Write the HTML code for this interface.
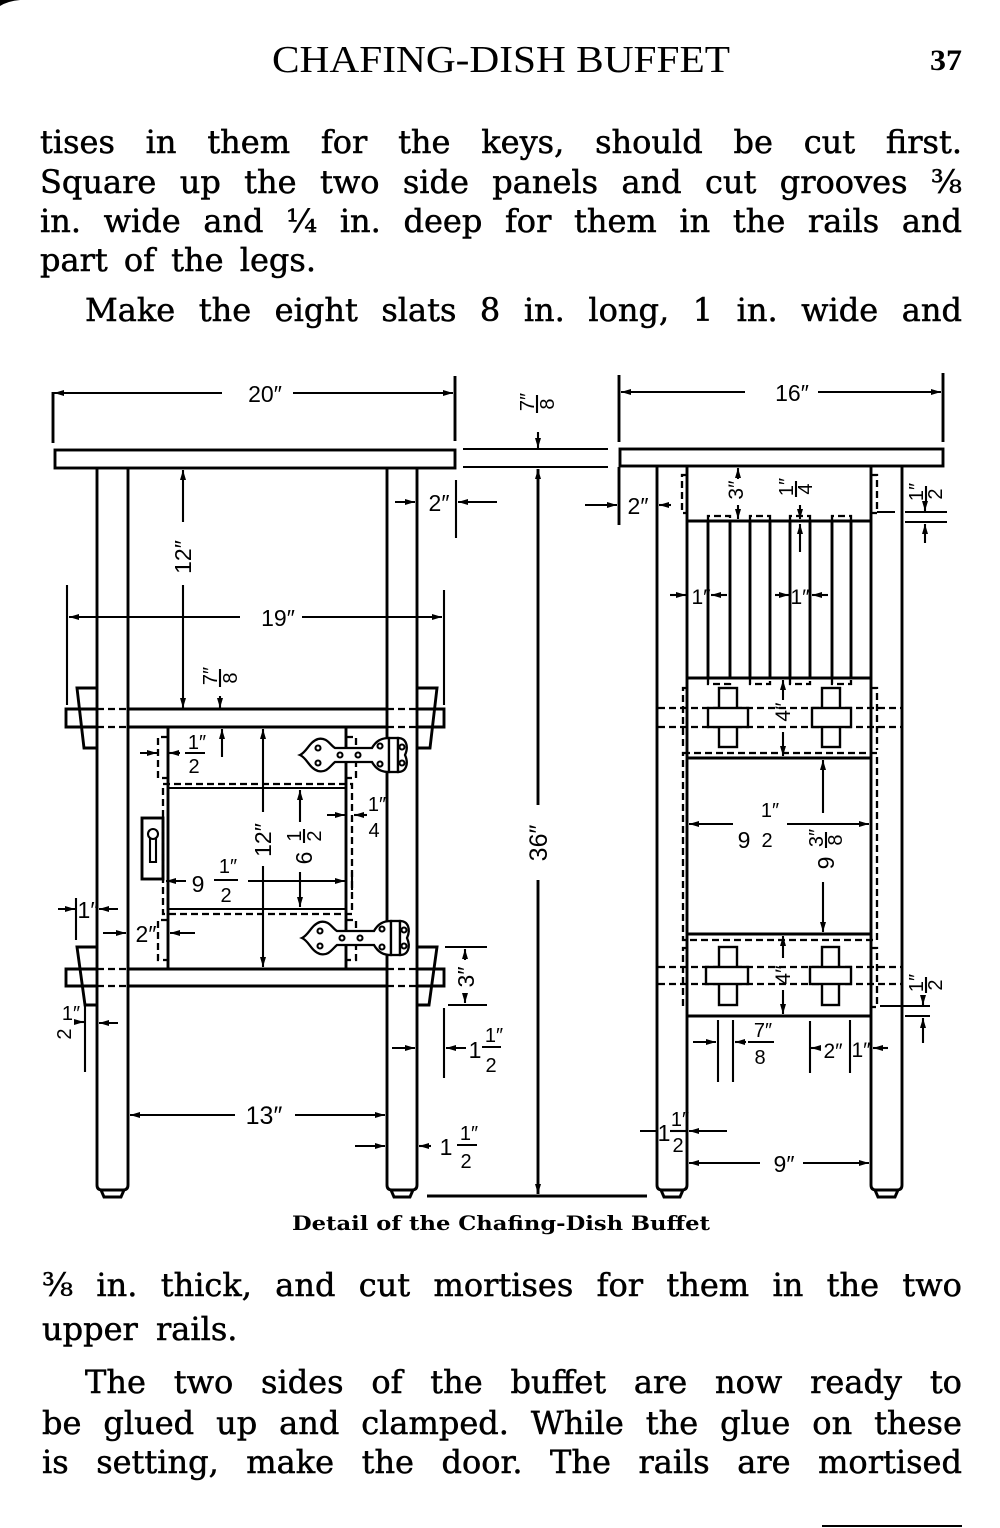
<!DOCTYPE html>
<html><head><meta charset="utf-8">
<style>
html,body{margin:0;padding:0;background:#fff}
body{width:1000px;height:1528px;position:relative;overflow:hidden}
svg{position:absolute;left:0;top:0}
.ln{position:absolute;height:32px;line-height:32px;font-family:"DejaVu Serif","Liberation Serif",serif;font-size:32px;color:#000;white-space:nowrap;display:flex;justify-content:space-between;-webkit-text-stroke:0.5px #000}
.ln span{flex:0 0 auto}
.s{stroke:#000;stroke-width:2.9;fill:none}
.m{stroke:#000;stroke-width:2.1;fill:none}
.d{stroke:#000;stroke-width:2.3;fill:none;stroke-dasharray:7 4}
.ar{stroke:#000;stroke-width:2.1;fill:none;marker-end:url(#a)}
.as{stroke:#000;stroke-width:2.9;fill:none;marker-end:url(#a)}
.k{stroke:#000;stroke-width:2.4;fill:#fff}
.hg{stroke:#000;stroke-width:2.3;fill:#fff}
.n{font-family:"Liberation Sans","DejaVu Sans",sans-serif;font-size:23px;fill:#000}
.f{font-family:"Liberation Sans","DejaVu Sans",sans-serif;font-size:20px;fill:#000}
</style></head><body>
<svg width="1000" height="1528" viewBox="0 0 1000 1528" xmlns="http://www.w3.org/2000/svg">
<defs>
<marker id="a" viewBox="0 0 10 6" refX="10" refY="3" markerWidth="10" markerHeight="6" markerUnits="userSpaceOnUse" orient="auto"><path d="M0,0 L10,3 L0,6 z" fill="#000"/></marker>
</defs>

<path d="M0,0 H20 Q8,1 0,6 Z" fill="#000"/>
<line x1="822" y1="1526" x2="962" y2="1526" stroke="#000" stroke-width="2"/>

<text x="272" y="72" font-family="Liberation Serif, serif" font-size="38" textLength="458" lengthAdjust="spacingAndGlyphs">CHAFING-DISH BUFFET</text>
<text x="930" y="70" font-family="Liberation Serif, serif" font-weight="bold" font-size="30" textLength="32" lengthAdjust="spacingAndGlyphs">37</text>

<!-- LEFT VIEW -->
<line class="s" x1="53" y1="392" x2="53" y2="443"/>
<line class="ar" x1="222" y1="393" x2="54" y2="393"/>
<line class="ar" x1="293" y1="393" x2="453" y2="393"/>
<line class="s" x1="455" y1="376" x2="455" y2="441"/>
<text class="n" x="265" y="402" text-anchor="middle">20″</text>

<rect class="s" x="55" y="450" width="400" height="18"/>

<path class="s" d="M97,468 V1185 Q97,1190 102,1190 H123 Q128,1190 128,1185 V468 M101,1190 L104,1197 H121 L124,1190"/>
<path class="s" d="M387,468 V1185 Q387,1190 392,1190 H412 Q417,1190 417,1185 V468 M391,1190 L394,1197 H410 L413,1190"/>

<line class="ar" x1="395" y1="502" x2="415" y2="502"/>
<text class="n" x="439" y="511" text-anchor="middle">2″</text>
<line class="m" x1="456" y1="480" x2="456" y2="538"/>
<line class="ar" x1="497" y1="502" x2="458" y2="502"/>

<line class="ar" x1="183" y1="522" x2="183" y2="470"/>
<text class="n" transform="translate(183,557) rotate(-90)" text-anchor="middle" y="8">12″</text>
<line class="ar" x1="183" y1="585" x2="183" y2="708"/>

<line class="m" x1="67" y1="585" x2="67" y2="705"/>
<line class="ar" x1="240" y1="617" x2="69" y2="617"/>
<text class="n" x="278" y="626" text-anchor="middle">19″</text>
<line class="ar" x1="302" y1="617" x2="442" y2="617"/>
<line class="m" x1="444" y1="590" x2="444" y2="705"/>

<g transform="translate(220,678) rotate(-90)">
<text class="f" x="2" y="-3" text-anchor="middle">7″</text>
<line class="m" x1="-9" y1="0" x2="9" y2="0"/>
<text class="f" x="0" y="17" text-anchor="middle">8</text>
</g>
<line class="ar" x1="220" y1="696" x2="220" y2="708"/>

<path class="s" d="M128,709 H387 M128,727 H387 M97,709 H66 V727 H97 M417,709 H444 V727 H417"/>
<path class="d" d="M97,709 H128 M97,727 H128 M387,709 H417 M387,727 H417"/>
<path class="s" d="M97,688 H77 L84,748 H97 M417,688 H437 L430,748 H417"/>

<path class="s" d="M128,969 H387 M128,986 H387 M97,969 H66 V986 H97 M417,969 H444 V986 H417"/>
<path class="d" d="M97,969 H128 M97,986 H128 M387,969 H417 M387,986 H417"/>
<path class="s" d="M97,947 H77 L85,1005 H97 M417,947 H437 L429,1005 H417"/>

<path class="s" d="M168,727 V969 M346,727 V969"/>
<path class="d" d="M168,737 H158 V778 H168 M168,920 H158 V960 H168 M346,737 H356 V778 H346 M346,920 H356 V960 H346"/>
<path class="m" d="M168,788 H346 M168,909 H346"/>
<rect class="d" x="163" y="784" width="189" height="130"/>
<rect class="s" x="142" y="818" width="21" height="61"/>
<circle class="m" cx="153" cy="834" r="5"/>
<path class="m" d="M150,838 V862 H156 V838"/>

<line class="ar" x1="263" y1="812" x2="263" y2="729"/>
<text class="n" transform="translate(263,840) rotate(-90)" text-anchor="middle" y="8">12″</text>
<line class="ar" x1="263" y1="866" x2="263" y2="967"/>

<line class="ar" x1="300" y1="822" x2="300" y2="790"/>
<line class="ar" x1="300" y1="872" x2="300" y2="907"/>
<g transform="translate(304,846) rotate(-90)">
<text class="n" x="-12" y="8" text-anchor="middle">6</text>
<text class="f" x="10" y="-3" text-anchor="middle">1</text>
<line class="m" x1="3" y1="0" x2="17" y2="0"/>
<text class="f" x="10" y="17" text-anchor="middle">2</text>
</g>

<line class="ar" x1="186" y1="881" x2="166" y2="881"/>
<text class="n" x="198" y="892" text-anchor="middle">9</text>
<text class="f" x="228" y="873" text-anchor="middle">1″</text>
<line class="m" x1="214" y1="880" x2="238" y2="880"/>
<text class="f" x="226" y="902" text-anchor="middle">2</text>
<line class="ar" x1="248" y1="881" x2="345" y2="881"/>
<line class="m" x1="352" y1="872" x2="352" y2="890"/>

<line class="ar" x1="327" y1="815" x2="345" y2="815"/>
<line class="ar" x1="367" y1="815" x2="354" y2="815"/>
<text class="f" x="377" y="811" text-anchor="middle">1″</text>
<text class="f" x="374" y="837" text-anchor="middle">4</text>

<line class="ar" x1="140" y1="753" x2="157" y2="753"/>
<line class="ar" x1="180" y1="753" x2="169" y2="753"/>
<text class="f" x="197" y="749" text-anchor="middle">1″</text>
<line class="m" x1="185" y1="753" x2="205" y2="753"/>
<text class="f" x="194" y="773" text-anchor="middle">2</text>
<line class="ar" x1="222" y1="757" x2="222" y2="729"/>

<line class="ar" x1="58" y1="909" x2="75" y2="909"/>
<line class="m" x1="76" y1="898" x2="76" y2="940"/>
<text class="n" x="88" y="918" text-anchor="middle">1″</text>
<line class="ar" x1="118" y1="909" x2="99" y2="909"/>

<line class="ar" x1="103" y1="933" x2="126" y2="933"/>
<text class="n" x="146" y="942" text-anchor="middle">2″</text>
<line class="ar" x1="195" y1="933" x2="170" y2="933"/>

<g>
<path class="hg" d="M300,755 C307,752 309,742 318,739 C327,737 330,745 335,748 L372,748 C376,741 381,738 389,738 L389,772 C381,772 376,769 372,762 L335,762 C330,766 327,773 318,771 C309,768 307,758 300,755 Z"/>
<rect class="hg" x="389" y="738" width="9" height="34"/>
<path class="hg" d="M398,738 C406,738 409,746 405,755 C409,764 406,772 398,772 Z"/>
<circle class="m" cx="318" cy="748" r="2.5"/><circle class="m" cx="318" cy="763" r="2.5"/>
<circle class="m" cx="340" cy="755" r="2.5"/><circle class="m" cx="358" cy="755" r="2.5"/>
<circle class="m" cx="380" cy="746" r="2.5"/><circle class="m" cx="380" cy="764" r="2.5"/>
<circle class="m" cx="402" cy="747" r="2.5"/><circle class="m" cx="402" cy="763" r="2.5"/>
</g>
<g transform="translate(2,183)">
<path class="hg" d="M300,755 C307,752 309,742 318,739 C327,737 330,745 335,748 L372,748 C376,741 381,738 389,738 L389,772 C381,772 376,769 372,762 L335,762 C330,766 327,773 318,771 C309,768 307,758 300,755 Z"/>
<rect class="hg" x="389" y="738" width="9" height="34"/>
<path class="hg" d="M398,738 C406,738 409,746 405,755 C409,764 406,772 398,772 Z"/>
<circle class="m" cx="318" cy="748" r="2.5"/><circle class="m" cx="318" cy="763" r="2.5"/>
<circle class="m" cx="340" cy="755" r="2.5"/><circle class="m" cx="358" cy="755" r="2.5"/>
<circle class="m" cx="380" cy="746" r="2.5"/><circle class="m" cx="380" cy="764" r="2.5"/>
<circle class="m" cx="402" cy="747" r="2.5"/><circle class="m" cx="402" cy="763" r="2.5"/>
</g>

<line class="m" x1="445" y1="947" x2="487" y2="947"/>
<line class="m" x1="448" y1="1005" x2="487" y2="1005"/>
<line class="ar" x1="465" y1="960" x2="465" y2="949"/>
<line class="ar" x1="465" y1="993" x2="465" y2="1003"/>
<text class="n" transform="translate(466,977) rotate(-90)" text-anchor="middle" y="8">3″</text>

<line class="ar" x1="392" y1="1048" x2="415" y2="1048"/>
<line class="m" x1="444" y1="1008" x2="444" y2="1078"/>
<line class="ar" x1="466" y1="1048" x2="446" y2="1048"/>
<text class="n" x="475" y="1058" text-anchor="middle">1</text>
<text class="f" x="494" y="1042" text-anchor="middle">1″</text>
<line class="m" x1="482" y1="1047" x2="501" y2="1047"/>
<text class="f" x="491" y="1072" text-anchor="middle">2</text>

<line class="ar" x1="76" y1="1022" x2="84" y2="1022"/>
<line class="m" x1="85" y1="1003" x2="85" y2="1072"/>
<line class="ar" x1="118" y1="1023" x2="99" y2="1023"/>
<text class="f" x="71" y="1020" text-anchor="middle">1″</text>
<text class="f" transform="translate(64,1034) rotate(-90)" text-anchor="middle" y="7">2</text>

<line class="ar" x1="235" y1="1115" x2="130" y2="1115"/>
<text class="n" x="264" y="1124" text-anchor="middle" style="font-size:25px">13″</text>
<line class="ar" x1="295" y1="1115" x2="385" y2="1115"/>

<line class="ar" x1="355" y1="1146" x2="385" y2="1146"/>
<line class="ar" x1="431" y1="1146" x2="419" y2="1146"/>
<text class="n" x="446" y="1155" text-anchor="middle">1</text>
<text class="f" x="469" y="1140" text-anchor="middle">1″</text>
<line class="m" x1="457" y1="1145" x2="477" y2="1145"/>
<text class="f" x="466" y="1168" text-anchor="middle">2</text>

<line class="m" x1="463" y1="449" x2="608" y2="449"/>
<line class="m" x1="463" y1="467" x2="608" y2="467"/>
<g transform="translate(537,404) rotate(-90)">
<text class="f" x="2" y="-3" text-anchor="middle">7″</text>
<line class="m" x1="-9" y1="0" x2="9" y2="0"/>
<text class="f" x="0" y="17" text-anchor="middle">8</text>
</g>
<line class="ar" x1="538" y1="432" x2="538" y2="448"/>
<line class="as" x1="538" y1="805" x2="538" y2="469"/>
<text class="n" transform="translate(538,843) rotate(-90)" text-anchor="middle" y="9" style="font-size:25px">36″</text>
<line class="as" x1="538" y1="880" x2="538" y2="1194"/>
<line class="s" x1="427" y1="1196" x2="647" y2="1196"/>

<!-- RIGHT VIEW -->
<line class="s" x1="619" y1="375" x2="619" y2="442"/>
<line class="s" x1="619" y1="467" x2="619" y2="525"/>
<line class="s" x1="943" y1="373" x2="943" y2="442"/>
<line class="ar" x1="745" y1="392" x2="621" y2="392"/>
<line class="ar" x1="818" y1="392" x2="941" y2="392"/>
<text class="n" x="792" y="401" text-anchor="middle">16″</text>

<rect class="s" x="620" y="449" width="323" height="17"/>

<path class="s" d="M657,466 V1185 Q657,1190 662,1190 H682 Q687,1190 687,1185 V466 M661,1190 L664,1197 H680 L683,1190"/>
<path class="s" d="M871,466 V1185 Q871,1190 876,1190 H897 Q902,1190 902,1185 V466 M875,1190 L878,1197 H895 L898,1190"/>

<line class="ar" x1="585" y1="505" x2="617" y2="505"/>
<text class="n" x="638" y="514" text-anchor="middle">2″</text>
<line class="ar" x1="671" y1="505" x2="659" y2="505"/>

<line class="s" x1="687" y1="521" x2="871" y2="521"/>
<path class="d" d="M687,475 H682 V513 H687 M871,475 H877 V513 H871"/>
<line class="m" x1="877" y1="512" x2="895" y2="512"/>

<line class="ar" x1="738" y1="479" x2="738" y2="468"/>
<line class="ar" x1="738" y1="505" x2="738" y2="519"/>
<text class="n" transform="translate(735,490) rotate(-90)" text-anchor="middle" y="8" style="font-size:21px">3″</text>

<g transform="translate(796,489) rotate(-90)">
<text class="f" x="2" y="-3" text-anchor="middle">1″</text>
<line class="m" x1="-8" y1="0" x2="8" y2="0"/>
<text class="f" x="0" y="16" text-anchor="middle">4</text>
</g>
<line class="ar" x1="800" y1="505" x2="800" y2="519"/>
<line class="ar" x1="800" y1="552" x2="800" y2="524"/>

<line class="m" x1="905" y1="512" x2="947" y2="512"/>
<line class="m" x1="905" y1="522" x2="947" y2="522"/>
<g transform="translate(926,494) rotate(-90)">
<text class="f" x="2" y="-3" text-anchor="middle">1″</text>
<line class="m" x1="-8" y1="0" x2="8" y2="0"/>
<text class="f" x="0" y="16" text-anchor="middle">2</text>
</g>
<line class="ar" x1="925" y1="503" x2="925" y2="511"/>
<line class="ar" x1="925" y1="543" x2="925" y2="524"/>

<path class="d" d="M708,521 V516 H730 V521 M708,678 V684 H730 V678 M750,521 V516 H770 V521 M750,678 V684 H770 V678 M790,521 V516 H810 V521 M790,678 V684 H810 V678 M832,521 V516 H851 V521 M832,678 V684 H851 V678"/>
<path class="s" d="M708,521 V678 M730,521 V678 M750,521 V678 M770,521 V678 M790,521 V678 M810,521 V678 M832,521 V678 M851,521 V678"/>
<line class="s" x1="687" y1="678" x2="871" y2="678"/>

<line class="ar" x1="670" y1="595" x2="686" y2="595"/>
<text class="n" x="701" y="604" text-anchor="middle" style="font-size:21px">1″</text>
<line class="ar" x1="727" y1="595" x2="711" y2="595"/>
<line class="ar" x1="775" y1="595" x2="789" y2="595"/>
<text class="n" x="800" y="604" text-anchor="middle" style="font-size:21px">1″</text>
<line class="ar" x1="828" y1="595" x2="812" y2="595"/>

<path class="d" d="M687,688 H683 V750 M871,688 H877 V750"/>
<path class="d" d="M658,708 H902 M658,727 H902"/>
<rect class="k" x="719" y="688" width="18" height="59"/>
<rect class="k" x="708" y="708" width="40" height="19"/>
<rect class="k" x="822" y="688" width="18" height="59"/>
<rect class="k" x="812" y="708" width="39" height="19"/>
<line class="ar" x1="783" y1="700" x2="783" y2="680"/>
<text class="n" transform="translate(782,712) rotate(-90)" text-anchor="middle" y="8" style="font-size:21px">4″</text>
<line class="ar" x1="783" y1="732" x2="783" y2="756"/>
<line class="s" x1="687" y1="758" x2="871" y2="758"/>

<rect class="d" x="683" y="753" width="194" height="187"/>
<line class="s" x1="687" y1="934" x2="871" y2="934"/>
<line class="ar" x1="733" y1="824" x2="689" y2="824"/>
<text class="n" x="744" y="848" text-anchor="middle">9</text>
<text class="f" x="770" y="817" text-anchor="middle">1″</text>
<text class="f" x="767" y="847" text-anchor="middle">2</text>
<line class="ar" x1="787" y1="824" x2="869" y2="824"/>
<line class="ar" x1="823" y1="813" x2="823" y2="760"/>
<g transform="translate(826,850) rotate(-90)">
<text class="n" x="-13" y="8" text-anchor="middle">9</text>
<text class="f" x="12" y="-3" text-anchor="middle">3″</text>
<line class="m" x1="2" y1="0" x2="18" y2="0"/>
<text class="f" x="10" y="16" text-anchor="middle">8</text>
</g>
<line class="ar" x1="823" y1="882" x2="823" y2="932"/>

<path class="d" d="M687,948 H683 V1007 H687 M871,948 H877 V1007 H871"/>
<path class="d" d="M658,967 H902 M658,984 H902"/>
<rect class="k" x="719" y="947" width="18" height="58"/>
<rect class="k" x="706" y="967" width="42" height="17"/>
<rect class="k" x="822" y="947" width="17" height="58"/>
<rect class="k" x="810" y="967" width="41" height="17"/>
<line class="ar" x1="783" y1="958" x2="783" y2="936"/>
<text class="n" transform="translate(782,975) rotate(-90)" text-anchor="middle" y="8" style="font-size:21px">4″</text>
<line class="ar" x1="783" y1="990" x2="783" y2="1014"/>
<line class="s" x1="687" y1="1016" x2="871" y2="1016"/>

<line class="m" x1="880" y1="1006" x2="930" y2="1006"/>
<line class="m" x1="905" y1="1016" x2="930" y2="1016"/>
<g transform="translate(926,985) rotate(-90)">
<text class="f" x="2" y="-3" text-anchor="middle">1″</text>
<line class="m" x1="-8" y1="0" x2="8" y2="0"/>
<text class="f" x="0" y="16" text-anchor="middle">2</text>
</g>
<line class="ar" x1="923" y1="996" x2="923" y2="1005"/>
<line class="ar" x1="923" y1="1043" x2="923" y2="1018"/>

<line class="m" x1="718" y1="1020" x2="718" y2="1082"/>
<line class="m" x1="733" y1="1020" x2="733" y2="1082"/>
<line class="ar" x1="693" y1="1042" x2="716" y2="1042"/>
<line class="ar" x1="746" y1="1042" x2="735" y2="1042"/>
<text class="f" x="763" y="1037" text-anchor="middle">7″</text>
<line class="m" x1="748" y1="1042" x2="774" y2="1042"/>
<text class="f" x="760" y="1064" text-anchor="middle">8</text>

<line class="m" x1="810" y1="1021" x2="810" y2="1073"/>
<line class="m" x1="850" y1="1020" x2="850" y2="1073"/>
<line class="ar" x1="820" y1="1048" x2="811" y2="1048"/>
<text class="n" x="833" y="1058" text-anchor="middle" style="font-size:21px">2″</text>
<text class="n" x="861" y="1057" text-anchor="middle" style="font-size:21px">1″</text>
<line class="ar" x1="888" y1="1048" x2="873" y2="1048"/>

<line class="m" x1="640" y1="1131" x2="657" y2="1131"/>
<text class="n" x="664" y="1141" text-anchor="middle">1</text>
<text class="f" x="680" y="1126" text-anchor="middle">1″</text>
<line class="m" x1="670" y1="1131" x2="686" y2="1131"/>
<text class="f" x="678" y="1152" text-anchor="middle">2</text>
<line class="ar" x1="727" y1="1131" x2="689" y2="1131"/>

<line class="ar" x1="760" y1="1163" x2="689" y2="1163"/>
<text class="n" x="784" y="1172" text-anchor="middle">9″</text>
<line class="ar" x1="803" y1="1163" x2="869" y2="1163"/>

<text x="292" y="1230" font-family="DejaVu Serif, serif" font-weight="bold" font-size="20" textLength="418" lengthAdjust="spacingAndGlyphs">Detail of the Chafing-Dish Buffet</text>
</svg>

<div class="ln" style="left:40px;width:922px;top:126px"><span>tises</span><span>in</span><span>them</span><span>for</span><span>the</span><span>keys,</span><span>should</span><span>be</span><span>cut</span><span>first.</span></div>
<div class="ln" style="left:40px;width:922px;top:166px"><span>Square</span><span>up</span><span>the</span><span>two</span><span>side</span><span>panels</span><span>and</span><span>cut</span><span>grooves</span><span>⅜</span></div>
<div class="ln" style="left:40px;width:922px;top:205px"><span>in.</span><span>wide</span><span>and</span><span>¼</span><span>in.</span><span>deep</span><span>for</span><span>them</span><span>in</span><span>the</span><span>rails</span><span>and</span></div>
<div class="ln" style="left:40px;top:244px;word-spacing:6px"><span>part of the legs.</span></div>
<div class="ln" style="left:85px;width:877px;top:294px"><span>Make</span><span>the</span><span>eight</span><span>slats</span><span>8</span><span>in.</span><span>long,</span><span>1</span><span>in.</span><span>wide</span><span>and</span></div>

<div class="ln" style="left:42px;width:920px;top:1269px"><span>⅜</span><span>in.</span><span>thick,</span><span>and</span><span>cut</span><span>mortises</span><span>for</span><span>them</span><span>in</span><span>the</span><span>two</span></div>
<div class="ln" style="left:42px;top:1313px;word-spacing:8px"><span>upper rails.</span></div>
<div class="ln" style="left:85px;width:877px;top:1366px"><span>The</span><span>two</span><span>sides</span><span>of</span><span>the</span><span>buffet</span><span>are</span><span>now</span><span>ready</span><span>to</span></div>
<div class="ln" style="left:42px;width:920px;top:1407px"><span>be</span><span>glued</span><span>up</span><span>and</span><span>clamped.</span><span>While</span><span>the</span><span>glue</span><span>on</span><span>these</span></div>
<div class="ln" style="left:42px;width:920px;top:1446px"><span>is</span><span>setting,</span><span>make</span><span>the</span><span>door.</span><span>The</span><span>rails</span><span>are</span><span>mortised</span></div>
</body></html>
